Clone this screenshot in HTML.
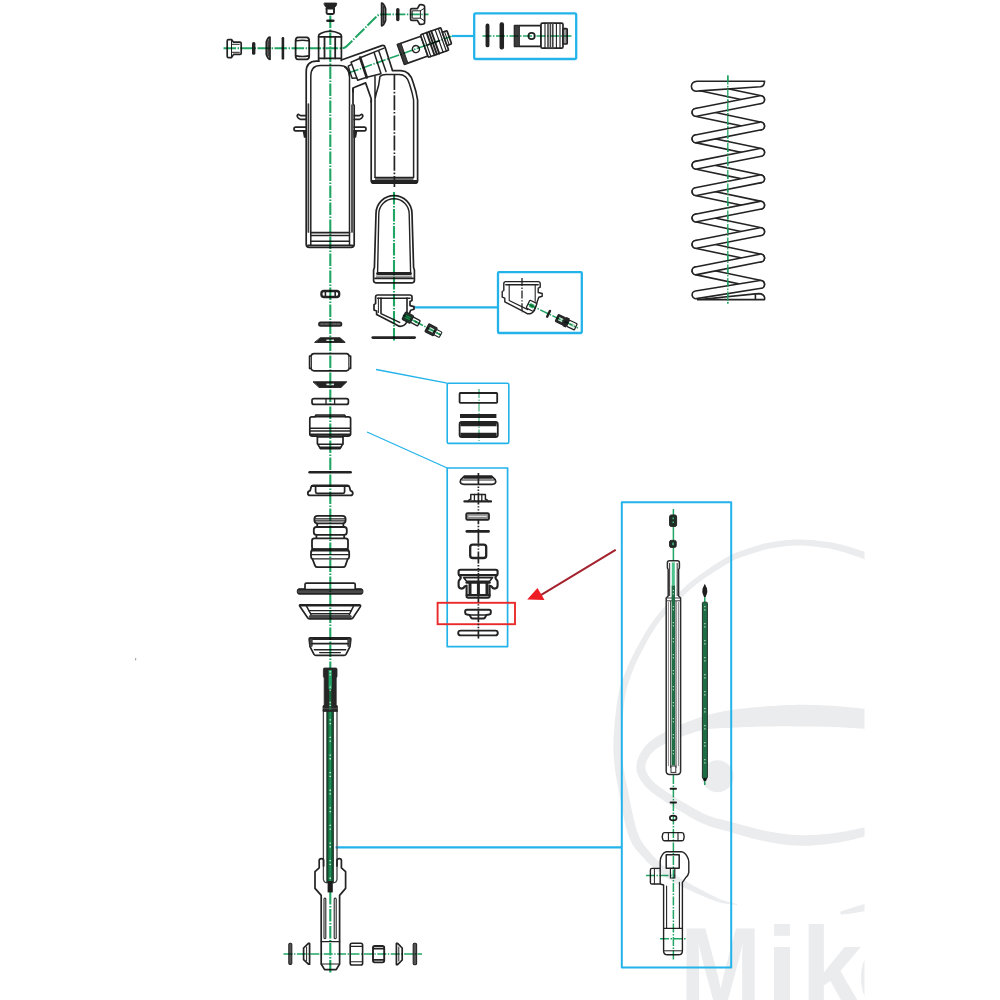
<!DOCTYPE html>
<html><head><meta charset="utf-8"><title>Shock absorber exploded view</title>
<style>
html,body{margin:0;padding:0;background:#fff;}
body{width:1000px;height:1000px;overflow:hidden;font-family:"Liberation Sans",sans-serif;}
svg{display:block;filter:blur(0.75px);}
.k{fill:none;stroke:#232323;stroke-width:1.7;stroke-linejoin:round;stroke-linecap:round;}
</style></head>
<body>
<svg width="1000" height="1000" viewBox="0 0 1000 1000">
<defs><clipPath id="wmclip"><rect x="560" y="480" width="304.5" height="520"/></clipPath></defs>
<rect width="1000" height="1000" fill="#fff"/>
<g clip-path="url(#wmclip)" fill="#ebecee" stroke="none">
<path d="M871.6,554.9 L871.3,554.8 L871.5,554.8 L871.7,555.0 L871.8,555.1 L871.5,554.8 L871.0,554.4 L870.4,554.0 L869.8,553.7 L869.1,553.4 L868.3,553.1 L867.2,552.7 L865.9,552.3 L864.3,551.8 L862.5,551.1 L860.3,550.4 L858.0,549.6 L855.5,548.8 L852.8,547.9 L850.0,547.1 L847.2,546.2 L844.3,545.4 L841.4,544.6 L838.5,543.9 L835.7,543.3 L832.8,542.8 L830.0,542.3 L827.0,541.8 L824.0,541.4 L820.9,541.0 L817.9,540.7 L814.8,540.3 L811.8,540.1 L808.7,539.9 L805.8,539.7 L802.9,539.6 L800.0,539.5 L797.3,539.5 L794.5,539.6 L791.7,539.7 L789.0,539.9 L786.3,540.1 L783.7,540.4 L781.2,540.7 L778.7,541.1 L776.2,541.4 L773.9,541.8 L771.6,542.2 L769.5,542.5 L767.4,542.9 L765.4,543.3 L763.6,543.8 L761.8,544.2 L760.1,544.7 L758.4,545.2 L756.8,545.7 L755.3,546.2 L753.7,546.8 L752.2,547.3 L750.6,547.8 L749.1,548.3 L747.5,548.8 L746.0,549.3 L744.5,549.8 L743.0,550.2 L741.5,550.7 L740.0,551.2 L738.4,551.7 L736.8,552.3 L735.1,553.0 L733.3,553.8 L731.4,554.7 L729.4,555.8 L727.2,556.9 L724.9,558.3 L722.5,559.7 L720.0,561.3 L717.4,562.9 L714.8,564.6 L712.2,566.3 L709.7,568.1 L707.2,569.8 L704.8,571.4 L702.5,573.0 L700.4,574.5 L698.4,575.9 L696.7,577.2 L695.0,578.5 L693.4,579.7 L691.9,580.9 L690.4,582.1 L688.9,583.3 L687.5,584.6 L685.9,586.0 L684.4,587.5 L682.7,589.1 L680.9,590.8 L678.9,592.6 L676.9,594.6 L674.7,596.7 L672.5,598.9 L670.3,601.1 L668.0,603.5 L665.7,605.8 L663.4,608.3 L661.2,610.8 L659.0,613.3 L657.0,615.8 L655.0,618.3 L653.1,620.9 L651.2,623.5 L649.4,626.3 L647.6,629.0 L645.9,631.8 L644.2,634.7 L642.6,637.4 L641.0,640.2 L639.5,642.9 L638.1,645.6 L636.7,648.1 L635.3,650.6 L634.1,653.0 L632.9,655.3 L631.8,657.6 L630.7,659.8 L629.7,662.0 L628.7,664.2 L627.8,666.3 L626.9,668.4 L626.1,670.4 L625.3,672.5 L624.5,674.5 L623.7,676.5 L623.0,678.4 L622.4,680.3 L621.8,682.0 L621.2,683.7 L620.7,685.4 L620.2,687.1 L619.7,688.9 L619.2,690.8 L618.8,692.7 L618.4,694.8 L618.0,697.0 L617.5,699.5 L617.1,702.2 L616.7,705.2 L616.3,708.3 L615.9,711.7 L615.5,715.1 L615.1,718.6 L614.8,722.1 L614.5,725.5 L614.2,728.9 L614.0,732.1 L613.8,735.1 L613.6,737.8 L613.5,740.4 L613.4,742.8 L613.4,745.0 L613.4,747.1 L613.4,749.1 L613.5,751.1 L613.5,753.0 L613.7,754.8 L613.8,756.7 L613.9,758.5 L614.1,760.5 L614.3,762.4 L614.5,764.4 L614.6,766.2 L614.8,768.0 L615.0,769.7 L615.3,771.4 L615.5,773.2 L615.8,775.1 L616.1,777.0 L616.5,779.1 L617.0,781.5 L617.4,784.0 L618.0,786.9 L618.6,790.1 L619.3,793.8 L620.0,797.8 L620.8,802.0 L621.6,806.5 L622.5,811.1 L623.4,815.6 L624.3,820.1 L625.3,824.4 L626.3,828.5 L627.4,832.2 L628.5,835.6 L629.7,838.6 L630.9,841.3 L632.2,843.7 L633.5,845.9 L634.9,847.9 L636.2,849.7 L637.6,851.4 L639.0,853.0 L640.4,854.4 L641.7,855.9 L643.0,857.3 L644.4,858.8 L645.8,860.4 L647.3,861.9 L648.8,863.4 L650.3,864.9 L651.8,866.2 L653.4,867.6 L654.9,868.9 L656.5,870.2 L658.0,871.4 L659.6,872.6 L661.1,873.8 L662.7,875.0 L664.2,876.1 L665.7,877.2 L667.2,878.2 L668.6,879.1 L670.1,880.1 L671.6,881.0 L673.1,881.9 L674.8,882.9 L676.5,883.8 L678.3,884.8 L680.3,885.8 L682.5,886.9 L684.9,888.0 L687.5,889.3 L690.4,890.6 L693.4,892.0 L696.5,893.4 L699.7,894.8 L702.8,896.1 L706.0,897.4 L709.0,898.7 L711.9,899.8 L714.5,900.8 L717.0,901.6 L719.2,902.3 L721.2,902.9 L723.1,903.3 L724.8,903.6 L726.5,903.8 L728.0,904.0 L729.5,904.2 L730.9,904.3 L732.4,904.4 L733.8,904.5 L735.3,904.7 L736.9,904.9 L737.1,904.1 L735.5,903.7 L734.0,903.3 L732.6,902.9 L731.2,902.6 L729.8,902.3 L728.4,901.9 L726.9,901.5 L725.4,901.1 L723.8,900.6 L722.1,900.0 L720.3,899.2 L718.2,898.4 L716.0,897.3 L713.5,896.1 L710.7,894.8 L707.9,893.3 L704.9,891.8 L701.9,890.2 L698.9,888.6 L695.9,886.9 L693.0,885.4 L690.3,883.8 L687.8,882.4 L685.5,881.1 L683.5,879.9 L681.6,878.8 L679.9,877.8 L678.3,876.8 L676.8,875.9 L675.4,875.0 L674.0,874.1 L672.7,873.2 L671.4,872.2 L670.1,871.2 L668.7,870.2 L667.3,869.0 L665.8,867.8 L664.4,866.6 L662.9,865.4 L661.5,864.2 L660.1,862.9 L658.7,861.6 L657.3,860.3 L656.0,859.0 L654.7,857.6 L653.4,856.2 L652.1,854.8 L650.8,853.2 L649.5,851.6 L648.2,850.1 L646.9,848.6 L645.7,847.2 L644.6,845.7 L643.5,844.3 L642.4,842.7 L641.4,841.1 L640.4,839.2 L639.4,837.2 L638.4,835.0 L637.5,832.4 L636.5,829.4 L635.5,826.0 L634.5,822.1 L633.5,818.0 L632.6,813.7 L631.6,809.2 L630.7,804.7 L629.8,800.3 L629.0,796.1 L628.2,792.1 L627.5,788.4 L626.8,785.1 L626.2,782.3 L625.7,779.8 L625.2,777.5 L624.8,775.4 L624.5,773.5 L624.2,771.8 L623.9,770.1 L623.6,768.5 L623.4,766.9 L623.2,765.2 L622.9,763.5 L622.7,761.6 L622.5,759.6 L622.3,757.8 L622.1,756.0 L622.0,754.2 L621.8,752.5 L621.7,750.7 L621.6,748.9 L621.6,747.0 L621.5,745.0 L621.5,742.9 L621.5,740.6 L621.6,738.2 L621.7,735.5 L621.8,732.5 L622.0,729.4 L622.2,726.1 L622.4,722.7 L622.6,719.2 L622.9,715.8 L623.2,712.4 L623.5,709.1 L623.8,706.0 L624.1,703.1 L624.5,700.5 L624.8,698.2 L625.2,696.0 L625.5,694.1 L625.9,692.2 L626.3,690.5 L626.7,688.9 L627.1,687.3 L627.6,685.7 L628.1,684.1 L628.6,682.4 L629.2,680.6 L629.9,678.7 L630.6,676.7 L631.3,674.7 L632.0,672.7 L632.8,670.7 L633.6,668.7 L634.4,666.6 L635.3,664.5 L636.3,662.4 L637.3,660.2 L638.3,658.0 L639.5,655.7 L640.7,653.4 L641.9,650.9 L643.3,648.4 L644.7,645.7 L646.1,643.0 L647.6,640.3 L649.2,637.5 L650.8,634.8 L652.5,632.1 L654.1,629.4 L655.9,626.7 L657.6,624.2 L659.4,621.7 L661.3,619.3 L663.3,616.9 L665.4,614.4 L667.5,612.0 L669.8,609.7 L672.0,607.3 L674.2,605.1 L676.5,602.8 L678.7,600.7 L680.8,598.6 L682.8,596.7 L684.7,594.8 L686.5,593.1 L688.2,591.6 L689.7,590.1 L691.2,588.8 L692.6,587.6 L694.0,586.4 L695.4,585.2 L696.8,584.1 L698.4,582.9 L700.0,581.7 L701.7,580.4 L703.6,579.1 L705.7,577.6 L708.0,576.1 L710.3,574.5 L712.8,572.8 L715.4,571.1 L718.0,569.5 L720.6,567.9 L723.1,566.3 L725.6,564.8 L727.9,563.4 L730.2,562.2 L732.2,561.0 L734.1,560.1 L735.8,559.3 L737.4,558.6 L739.0,557.9 L740.5,557.4 L741.9,556.9 L743.3,556.4 L744.8,556.0 L746.2,555.5 L747.7,555.1 L749.3,554.6 L750.9,554.1 L752.6,553.5 L754.1,553.0 L755.7,552.4 L757.2,551.9 L758.7,551.4 L760.2,551.0 L761.8,550.5 L763.3,550.0 L765.0,549.6 L766.7,549.2 L768.6,548.8 L770.5,548.5 L772.6,548.1 L774.8,547.7 L777.1,547.4 L779.5,547.0 L781.9,546.7 L784.4,546.4 L786.9,546.1 L789.5,545.9 L792.1,545.7 L794.7,545.5 L797.3,545.5 L800.0,545.5 L802.6,545.6 L805.4,545.7 L808.3,545.9 L811.2,546.2 L814.2,546.5 L817.2,546.8 L820.1,547.2 L823.1,547.7 L826.0,548.1 L828.9,548.6 L831.7,549.1 L834.3,549.7 L837.0,550.3 L839.7,551.0 L842.5,551.8 L845.3,552.6 L848.0,553.5 L850.7,554.4 L853.3,555.3 L855.8,556.1 L858.1,556.9 L860.2,557.7 L862.1,558.4 L863.7,558.9 L865.0,559.4 L865.9,559.7 L866.5,559.9 L866.9,560.1 L867.0,560.2 L866.9,560.1 L866.7,559.9 L866.6,559.8 L866.9,560.1 L867.4,560.5 L867.9,560.9 L868.4,561.1 Z"/>
<path d="M871.5,709.6 L871.3,709.6 L871.6,709.7 L872.3,709.8 L872.6,710.0 L872.1,709.8 L871.2,709.5 L870.4,709.4 L869.7,709.3 L868.9,709.2 L868.1,709.1 L867.0,709.0 L865.7,708.8 L864.1,708.7 L862.2,708.5 L860.1,708.2 L857.8,708.0 L855.3,707.7 L852.6,707.5 L849.8,707.2 L847.0,706.9 L844.1,706.7 L841.2,706.4 L838.3,706.2 L835.5,706.0 L832.7,705.8 L829.9,705.7 L827.0,705.5 L824.1,705.4 L821.1,705.2 L818.1,705.1 L815.1,705.0 L812.1,704.9 L809.0,704.9 L806.0,704.8 L803.0,704.8 L800.0,704.8 L797.0,704.8 L794.1,704.9 L791.1,705.0 L788.1,705.1 L785.1,705.2 L782.2,705.3 L779.2,705.5 L776.2,705.7 L773.3,705.9 L770.3,706.1 L767.4,706.3 L764.5,706.5 L761.6,706.7 L758.7,707.0 L755.7,707.2 L752.8,707.5 L749.9,707.8 L747.0,708.0 L744.0,708.4 L741.2,708.7 L738.3,709.0 L735.5,709.4 L732.7,709.8 L730.0,710.3 L727.5,710.7 L725.0,711.1 L722.5,711.6 L720.1,712.1 L717.7,712.6 L715.3,713.1 L712.9,713.7 L710.5,714.3 L708.0,715.0 L705.5,715.7 L702.9,716.5 L700.3,717.3 L697.6,718.2 L694.8,719.2 L692.0,720.2 L689.1,721.3 L686.2,722.4 L683.3,723.6 L680.5,724.8 L677.7,726.0 L675.0,727.1 L672.4,728.3 L670.0,729.5 L667.7,730.6 L665.5,731.7 L663.5,732.8 L661.5,733.9 L659.6,734.9 L657.7,736.0 L656.0,737.1 L654.2,738.3 L652.6,739.4 L651.0,740.7 L649.5,741.9 L648.0,743.3 L646.6,744.7 L645.3,746.1 L644.1,747.7 L642.9,749.2 L641.8,750.9 L640.8,752.5 L639.9,754.2 L639.1,755.9 L638.3,757.6 L637.7,759.3 L637.2,761.0 L636.8,762.7 L636.5,764.4 L636.4,766.1 L636.4,767.8 L636.6,769.5 L636.8,771.1 L637.2,772.7 L637.7,774.2 L638.3,775.7 L639.0,777.2 L639.7,778.6 L640.5,780.0 L641.4,781.3 L642.4,782.6 L643.3,783.9 L644.3,785.1 L645.3,786.3 L646.4,787.5 L647.6,788.7 L648.9,789.8 L650.2,791.0 L651.7,792.2 L653.4,793.4 L655.2,794.8 L657.2,796.2 L659.5,797.7 L662.0,799.5 L664.9,801.4 L668.1,803.5 L671.5,805.7 L675.1,807.9 L678.8,810.2 L682.5,812.5 L686.2,814.8 L689.9,816.9 L693.4,818.9 L696.8,820.7 L699.9,822.3 L702.9,823.6 L705.6,824.8 L708.3,825.8 L710.8,826.7 L713.3,827.5 L715.6,828.1 L717.9,828.8 L720.2,829.3 L722.5,829.9 L724.8,830.5 L727.2,831.1 L729.6,831.8 L732.3,832.6 L735.0,833.4 L737.7,834.2 L740.5,835.1 L743.4,835.9 L746.3,836.7 L749.2,837.6 L752.1,838.4 L755.1,839.1 L758.0,839.8 L761.0,840.5 L764.0,841.1 L766.9,841.7 L769.8,842.3 L772.8,842.8 L775.8,843.3 L778.7,843.8 L781.7,844.2 L784.7,844.6 L787.7,844.9 L790.8,845.2 L793.8,845.5 L796.8,845.6 L799.9,845.7 L802.9,845.8 L806.0,845.8 L809.1,845.7 L812.1,845.5 L815.2,845.3 L818.2,845.0 L821.3,844.8 L824.2,844.4 L827.2,844.1 L830.1,843.7 L832.9,843.3 L835.7,843.0 L838.5,842.5 L841.4,842.0 L844.3,841.4 L847.2,840.8 L850.0,840.2 L852.8,839.6 L855.4,838.9 L857.9,838.3 L860.2,837.7 L862.3,837.2 L864.2,836.8 L865.8,836.4 L867.1,836.1 L868.1,835.8 L868.9,835.6 L869.6,835.5 L870.1,835.3 L870.7,835.1 L871.3,834.8 L871.6,834.6 L871.5,834.7 L871.2,834.8 L871.1,834.9 L871.3,834.8 L868.7,826.2 L868.2,826.4 L867.6,826.6 L867.1,826.9 L866.7,827.1 L866.9,827.0 L867.2,826.9 L867.3,826.8 L867.1,826.9 L866.7,827.0 L866.1,827.1 L865.1,827.3 L863.8,827.6 L862.2,827.9 L860.3,828.3 L858.2,828.8 L855.9,829.3 L853.4,829.8 L850.8,830.3 L848.1,830.8 L845.3,831.4 L842.5,831.8 L839.7,832.3 L837.0,832.7 L834.3,833.0 L831.6,833.4 L828.9,833.7 L826.0,834.0 L823.2,834.3 L820.3,834.5 L817.4,834.8 L814.5,835.0 L811.6,835.1 L808.7,835.2 L805.8,835.3 L803.0,835.3 L800.1,835.3 L797.3,835.1 L794.5,835.0 L791.7,834.7 L788.9,834.4 L786.0,834.1 L783.2,833.7 L780.3,833.3 L777.4,832.9 L774.6,832.4 L771.7,831.9 L768.9,831.4 L766.0,830.9 L763.2,830.3 L760.4,829.7 L757.6,829.0 L754.7,828.3 L751.8,827.6 L749.0,826.8 L746.2,826.1 L743.3,825.3 L740.5,824.5 L737.8,823.7 L735.1,822.9 L732.4,822.2 L729.7,821.5 L727.2,820.9 L724.8,820.3 L722.5,819.8 L720.3,819.3 L718.1,818.7 L716.0,818.2 L713.8,817.5 L711.5,816.8 L709.2,815.9 L706.7,814.9 L704.1,813.7 L701.1,812.3 L697.9,810.6 L694.5,808.7 L690.9,806.7 L687.3,804.6 L683.6,802.4 L679.9,800.2 L676.4,798.0 L673.0,795.8 L669.9,793.8 L667.0,791.9 L664.5,790.3 L662.4,788.8 L660.4,787.4 L658.7,786.2 L657.2,785.1 L655.9,784.0 L654.8,783.1 L653.8,782.1 L652.8,781.2 L652.0,780.3 L651.2,779.4 L650.4,778.4 L649.6,777.4 L648.9,776.3 L648.2,775.2 L647.6,774.2 L647.0,773.1 L646.5,772.1 L646.2,771.2 L645.8,770.2 L645.6,769.3 L645.5,768.3 L645.4,767.4 L645.4,766.5 L645.5,765.6 L645.6,764.5 L645.9,763.4 L646.3,762.2 L646.8,761.0 L647.3,759.7 L648.0,758.5 L648.7,757.2 L649.5,755.9 L650.4,754.7 L651.4,753.5 L652.3,752.4 L653.4,751.3 L654.5,750.3 L655.6,749.4 L656.9,748.5 L658.2,747.6 L659.7,746.7 L661.2,745.8 L662.8,745.0 L664.5,744.1 L666.3,743.3 L668.2,742.4 L670.2,741.5 L672.3,740.6 L674.5,739.6 L676.9,738.7 L679.4,737.7 L682.1,736.6 L684.8,735.6 L687.5,734.6 L690.3,733.7 L693.1,732.8 L695.9,731.9 L698.6,731.1 L701.2,730.4 L703.7,729.9 L706.1,729.4 L708.4,729.0 L710.7,728.8 L713.0,728.5 L715.2,728.4 L717.4,728.3 L719.7,728.2 L722.0,728.1 L724.4,728.0 L726.8,728.0 L729.4,727.9 L732.0,727.7 L734.6,727.6 L737.2,727.5 L739.9,727.3 L742.7,727.2 L745.5,727.1 L748.3,727.0 L751.1,726.9 L754.0,726.8 L756.9,726.7 L759.8,726.6 L762.6,726.5 L765.5,726.5 L768.3,726.4 L771.2,726.4 L774.1,726.4 L776.9,726.3 L779.8,726.3 L782.7,726.3 L785.6,726.3 L788.5,726.3 L791.4,726.3 L794.3,726.4 L797.1,726.4 L800.0,726.4 L802.9,726.4 L805.8,726.4 L808.7,726.5 L811.7,726.5 L814.6,726.5 L817.5,726.6 L820.5,726.6 L823.4,726.7 L826.2,726.7 L829.0,726.8 L831.8,726.9 L834.5,727.0 L837.1,727.1 L839.9,727.2 L842.7,727.4 L845.5,727.5 L848.2,727.7 L850.9,727.9 L853.5,728.0 L856.0,728.2 L858.3,728.4 L860.4,728.5 L862.3,728.6 L863.9,728.8 L865.2,728.9 L866.1,728.9 L866.7,729.0 L867.0,729.0 L867.1,729.0 L866.7,729.0 L866.1,728.8 L865.7,728.7 L866.3,728.9 L867.2,729.1 L868.0,729.3 L868.5,729.4 Z"/>
<path d="M840.8,914.7 L843.7,914.3 L846.7,914.0 L849.6,913.7 L852.6,913.3 L855.9,912.7 L859.4,912.1 L862.7,911.5 L865.4,911.0 L867.3,910.6 L868.7,910.3 L869.8,910.1 L871.0,909.8 L869.0,902.6 L867.9,902.9 L866.8,903.3 L865.6,903.7 L863.8,904.2 L861.1,905.0 L857.9,905.9 L854.6,906.9 L851.4,907.9 L848.5,908.9 L845.7,909.8 L842.9,910.8 L840.2,911.7 Z"/>
<circle cx="717.5" cy="776.3" r="16"/>
<g font-family="Liberation Sans, sans-serif" font-weight="bold" font-size="116">
<text transform="translate(686.8,1009) scale(0.84,1)" x="-8.1" y="0">M</text>
<text x="766.1" y="1009">i</text>
<text transform="translate(808.6,1009) scale(0.95,1)" x="-8.1" y="0">k</text>
<text x="856.4" y="1009">e</text>
</g></g>
<!-- blue callouts -->
<g fill="none" stroke="#23b3ea" stroke-linejoin="round">
<rect x="474.2" y="13.4" width="102" height="45.6" rx="1.5" stroke-width="2.3"/>
<path d="M452,36 H474" stroke-width="2.2"/>
<rect x="498" y="272.2" width="83.8" height="60.8" rx="1" stroke-width="2.3"/>
<path d="M413,307.4 H498" stroke-width="2.2"/>
<rect x="447.2" y="383.2" width="61.6" height="60.2" rx="1.5" stroke-width="1.6"/>
<path d="M376,369.5 L447.2,383.2" stroke-width="1.3"/>
<rect x="447.2" y="468" width="60.4" height="178.6" stroke-width="1.7"/>
<path d="M367,432 L447.2,468" stroke-width="1.3"/>
<rect x="621.8" y="502.2" width="109.4" height="465.4" stroke-width="2"/>
<path d="M335.5,847.3 H621.8" stroke-width="2.3"/>
</g>
<!-- red -->
<rect x="437.6" y="602.8" width="77.4" height="21.4" fill="none" stroke="#ea2a2a" stroke-width="1.9"/>
<path d="M615.2,550.2 L540,595.6" stroke="#a3222d" stroke-width="2" fill="none" stroke-linecap="round"/>
<path d="M527.2,599.4 L537.5,588 L544.5,600 Z" fill="#ee1c24"/>

<!-- top bolt, washer, cap -->
<g class="k">
<path d="M324.4,3 H336.6 V5 L334.8,7.4 H326 L324.4,5 Z" fill="#232323" stroke-width="0.8"/>
<rect x="326.6" y="7.6" width="7.4" height="6.4" rx="1.2" fill="#fff" stroke-width="1.9"/>
<path d="M326.6,8.4 H334" stroke-width="2"/>
<rect x="326.2" y="19.4" width="8.4" height="2.6" rx="1.3" fill="#232323" stroke="none"/>
<!-- cap -->
<path d="M318.6,60.5 V36 Q318.6,34.3 320.5,33.6 Q330,28.5 339.5,33.6 Q341.4,34.3 341.4,36 V60.5"/>
<path d="M318.6,36.8 H341.4"/>
<path d="M319,58.4 H341"/>
<path d="M324.5,36.8 V58.4 M335.2,36.8 V58.4" stroke-width="1.8"/>
</g>
<!-- left row -->
<g class="k">
<!-- nut -->
<path d="M228.5,39.6 H231.5 L233.6,42.2 H240 Q241.2,42.2 241.2,43.4 V53.2 Q241.2,54.4 240,54.4 H233.6 L231.5,57.6 H228.5 Q227.2,57.6 227.2,56.2 V41 Q227.2,39.6 228.5,39.6 Z"/>
<path d="M231.5,39.6 V57.6" stroke-width="1"/>
<path d="M231.8,44.3 H239.3 M231.8,52.3 H239.3" stroke-width="1"/>
<!-- small washer -->
<rect x="252" y="42" width="3.4" height="12.8" rx="1.6" fill="#232323" stroke="none"/>
<!-- cup washer -->
<path d="M270,37.2 V59.4 Q268,59.6 266.3,54.6 V42 Q268,37 270,37.2 Z" fill="#888"/>
<path d="M268.2,41 V55.6" stroke-width="1"/>
<!-- thin disc -->
<rect x="281.6" y="37" width="2.6" height="22.6" rx="1.2" fill="#232323" stroke="none"/>
<!-- barrel -->
<path d="M298,37.3 H306.6 Q309.2,37.3 309.2,41 V55.6 Q309.2,59.4 306.6,59.4 H298 Q295.6,59.4 295.6,55.6 V41 Q295.6,37.3 298,37.3 Z" stroke-width="1.8"/>
<path d="M296.4,40.8 Q302.4,39.6 308.4,40.8 M296.4,55.9 Q302.4,57.1 308.4,55.9" stroke-width="1.6"/>
</g>
<!-- top right row -->
<g class="k">
<path d="M381.6,3.2 V25.8 Q383.6,26 385.6,20.4 V8.6 Q383.6,3 381.6,3.2 Z" fill="#888"/>
<path d="M383.4,6.5 V22.5" stroke-width="1"/>
<rect x="396.1" y="8" width="3.4" height="13.2" rx="1.6" fill="#232323" stroke="none"/>
<!-- nut -->
<path d="M411.8,8.6 H417.4 L419.6,4.8 Q422,4.2 424,5.4 Q424.8,6 424.6,7.4 V21.6 Q424.8,23 424,23.8 Q422,24.8 419.6,24.2 L417.4,20.4 H411.8 Q410.6,20.4 410.6,19.2 V9.8 Q410.6,8.6 411.8,8.6 Z"/>
<path d="M412.6,10.8 H420.4 V18.2 H412.6 Z" stroke-width="1"/>
<path d="M420.4,10.8 L424.4,8.2 M420.4,18.2 L424.4,20.8" stroke-width="1"/>
</g>

<!-- main body -->
<g class="k">
<!-- outer -->
<path d="M319,61.2 H316.5 Q306.2,61.2 306.2,72 V244.2 Q306.2,247.4 309.4,247.4 H351 Q354.2,247.4 354.2,244.2 V105.5 L353,104 V88"/>
<!-- inner -->
<path d="M310.8,245 V76 Q310.8,65.4 320.5,65.4 H339.5 Q349.5,65.4 349.5,76 V245" stroke-width="1.5"/>
<path d="M308.4,104 V232 M352,105 V232" stroke-width="1.7" stroke="#3a3a3a"/>
<!-- bottom bands -->
<path d="M310.8,232.6 H349.4" stroke-width="1.9"/>
<path d="M310.8,235.5 H349.4 M310.8,241.2 H349.4" stroke-width="1.6"/>
<path d="M308,245.4 H352.4" stroke-width="1.7"/>
<!-- brackets left -->
<path d="M305.8,115.6 H300.5 L298.6,114.4 Q297,114.6 297.2,116.2 Q297.4,117.6 298.8,118.4 L300.4,119.4 H305.8"/>
<path d="M305.8,127.2 H295.6 Q294,127.2 294,129 Q294,130.8 295.6,130.8 H305.8"/>
<path d="M303.6,131 H305.8 V137 H304.6 Z" fill="#232323"/>
<!-- brackets right -->
<path d="M354.2,115.6 H359.5 L361.4,114.4 Q363,114.6 362.8,116.2 Q362.6,117.6 361.2,118.4 L359.6,119.4 H354.2"/>
<path d="M354.2,127.2 H364.4 Q366,127.2 366,129 Q366,130.8 364.4,130.8 H354.2"/>
<path d="M356.4,131 H354.2 V137 H355.4 Z" fill="#232323"/>
</g>
<!-- web + housing -->
<g class="k">
<path d="M353,92 V89.4 Q353,87.8 354.6,87.3 L365.6,82.9 L371.2,98.8 V102"/>
<path d="M349.5,76 Q349,70 344.5,66.6" stroke-width="1.5"/>
</g>
<!-- housing (image coords) -->
<g class="k">
<path d="M341.4,60 L381.8,45.6 Q384.3,44.8 385.1,47.2 L392.4,70.3 L380,74.8 L366.8,77.3 L357.7,80.2 L352.1,78.2 L348.2,66.1 Z" fill="#fff" stroke="none"/>
<path d="M341.4,60 L381.8,45.6 Q384.3,44.8 385.1,47.2 L392.4,70.3"/>
<path d="M360.1,57.7 L384.1,48.1" stroke-width="1.5"/>
<path d="M366.8,77.3 L381,73.8" stroke-width="1.5"/>
<path d="M360.1,57.5 L366.8,77.5" stroke-width="2.6"/>
<path d="M374.1,52.6 L380.8,73 M378.7,50.8 L386,71.5" stroke-width="1.5"/>
<path d="M360.1,58.2 L351,62.2 L357.7,80.2 L366.8,77.3" stroke-width="1.5"/>
<path d="M351.6,64.4 L348.2,66.1 L352.1,78.2 L356.8,78" stroke-width="1.4"/>
</g>
<!-- adjuster rotated -->
<g class="k" transform="translate(349,72.8) rotate(-19.5)">
<path d="M55,-10.5 H80 V10.5 H55 Z" fill="#fff"/>
<path d="M55.2,-10.5 H58.8 V10.5 H55.2 Z" fill="#3c3c3c" stroke="#2a2a2a" stroke-width="1"/>
<circle cx="71" cy="0" r="3.5" stroke-width="1.5"/>
<path d="M81,-12 H100.5 Q101.5,-12 101.5,-11 V11 Q101.5,12 100.5,12 H81 Q80,12 80,11 V-11 Q80,-12 81,-12 Z" fill="#fff"/>
<path d="M82.6,-12 V12" stroke-width="1.2"/>
<path d="M86.5,-12 V12 M89,-12 V12 M91.5,-12 V12" stroke-width="1.9"/>
<path d="M95.6,-12 V12 M99,-12 V12" stroke-width="1.2"/>
<path d="M82.6,0 H96" stroke-width="1.6"/>
<path d="M101.5,-7 H105.4 Q106.4,-7 106.4,-6 V6 Q106.4,7 105.4,7 H101.5 Z" fill="#fff"/>
<path d="M103.8,-7 V7" stroke-width="1"/>
</g>

<!-- reservoir -->
<g class="k">
<path d="M371.2,100 V180.4 Q371.2,183.2 374,183.2 H414.8 Q417.6,183.2 417.6,180.4 V100 Q416.5,92 413,82 Q410,71 401,70.6 H392.5"/>
<path d="M375,76.4 V177.6 M413.6,177.6 V100 Q412.5,93 409.5,84 Q407,74.6 399,74.6 H386 Q382,74.8 380,76.4 Q379,86 376.4,93 L375.2,98" stroke-width="1.5"/>
<rect x="375" y="177.4" width="38.4" height="3" fill="#707070" stroke="none"/>
<path d="M375.2,177.4 H413.4" stroke-width="1.5"/>
<path d="M372.4,181.7 H416.4" stroke-width="3.2"/>
</g>
<path d="M394.4,75 V187" fill="none" stroke="#232323" stroke-width="1.7" stroke-dasharray="15 1.8 1.6 1.8"/>
<!-- bladder -->
<g class="k">
<path d="M376,213.6 A18,18 0 0 1 412,213.6 L413.6,267.6 L414.4,270 V280.6 Q414.4,282.8 412.2,282.8 H375.8 Q373.6,282.8 373.6,280.6 V270 L374.4,267.6 Z"/>
<path d="M377.6,272.6 L378.8,214 A15.2,15.2 0 0 1 409.2,214 L410.6,272.6" stroke-width="1.4"/>
<path d="M377.6,273.6 H410.4" stroke-width="3"/>
<rect x="376" y="275.4" width="36" height="2.4" fill="#9a9a9a" stroke="none"/>
<path d="M375,278.4 H413.2" stroke-width="1.6"/>
</g>
<!-- cap under bladder -->
<g class="k" id="cap">
<path d="M377.6,295 H409.8 Q412,295 412,297 V300.4 L410,301.4 V305.6 L414,306.6 V309.2 L410.6,310.2 L409,314.6 L406.4,322.6 Q404,326.8 399,326.2 L395,324 L376.6,314.6 V311 L374,310 V304.6 L375.6,303.6 V297 Q375.6,295 377.6,295 Z"/>
<path d="M377.6,298.2 H410" stroke-width="1.5"/>
<path d="M381,298 V313.6 L399.6,322.4 M407,298 V316" stroke-width="1.6"/>
<path d="M378.4,298 V312.6" stroke-width="1"/>
</g>
<path d="M372.8,337.6 H414.6" stroke="#232323" stroke-width="2.8" stroke-linecap="round" fill="none"/>
<!-- valve fitting angled -->
<g transform="translate(403,315) rotate(27.8)">
<rect x="1" y="-4.2" width="9" height="8.4" rx="1" fill="#1d3b2a" stroke="#232323" stroke-width="1.2"/>
<rect x="3" y="-1.4" width="5" height="2.8" fill="#21a564"/>
<rect x="10" y="-3" width="8" height="6" rx="0.8" fill="#fff" stroke="#232323" stroke-width="1.3"/>
<rect x="12" y="-1" width="4" height="2" fill="#21a564"/>
<rect x="27" y="-4.4" width="9.5" height="8.8" rx="0.8" fill="#2a2a2a" stroke="#232323" stroke-width="1.2"/>
<rect x="29.5" y="-2" width="5" height="4" fill="#bfe3cf"/>
<rect x="36.5" y="-3" width="6" height="6" rx="0.6" fill="#fff" stroke="#232323" stroke-width="1.1"/>
<rect x="38" y="-0.8" width="4" height="1.6" fill="#21a564"/>
</g>

<!-- stack along main axis -->
<g class="k">
<!-- small ring -->
<rect x="321.4" y="291" width="17.8" height="6" rx="2.6" stroke-width="2.3"/>
<path d="M325.4,291 V297 M335.2,291 V297" stroke-width="1.6"/>
<!-- washer -->
<rect x="318.8" y="322.2" width="22.8" height="3.8" rx="1.8" stroke-width="1.4" fill="#444"/>
<path d="M321,324.1 H339.6" stroke-width="0.9" stroke="#777" stroke-dasharray="2.5 1.5"/>
<!-- trapezoid washer up -->
<path d="M320.6,337.8 H340 L345.2,342.4 H315 Z" fill="#232323" stroke-width="1"/>
<rect x="326.4" y="339.6" width="7.6" height="1.4" fill="#e8e8e8" stroke="none"/>
<!-- big rounded rect -->
<path d="M314,353.6 H346.4 Q348.6,353.6 349.2,356 H350.6 V368.4 H349.2 Q348.6,370.8 346.4,370.8 H314 Q311.6,370.8 311,368.4 H309.6 V356 H311 Q311.6,353.6 314,353.6 Z" stroke-width="1.7"/>
<path d="M311.4,356.5 V368 M348.8,356.5 V368" stroke-width="1"/>
<!-- inverted trapezoid washer -->
<path d="M313.4,381.8 H346.8 L341,387.4 H319.4 Z" fill="#232323" stroke-width="1"/>
<rect x="326.4" y="383.6" width="7.6" height="1.6" fill="#e8e8e8" stroke="none"/>
<!-- flat ring -->
<rect x="312" y="398.6" width="36.4" height="5.8" rx="2" stroke-width="1.7"/>
<path d="M326,399 V404 M334.6,399 V404" stroke-width="1.3"/>
<!-- piston -->
<path d="M316,415 H344.4 L345.4,416.8 H348.6 Q350.6,416.8 350.6,418.8 V433.6 Q350.6,436.2 348,436.2 H343 V443.6 L340,448.6 H320.4 L317.4,443.6 V436.2 H312.4 Q309.8,436.2 309.8,433.6 V418.8 Q309.8,416.8 311.8,416.8 H315 Z" stroke-width="1.7"/>
<path d="M315.4,416.4 H345" stroke-width="2"/>
<path d="M310,428.2 H350.4 M310,431 H350.4" stroke-width="1.5"/>
<path d="M310.4,434.6 H350" stroke-width="2.4"/>
<path d="M317.4,436.6 H343" stroke-width="2.2"/>
<path d="M317.6,444.2 H342.8" stroke-width="1.6"/>
<path d="M320,447.4 H340.4" stroke-width="1.8"/>
<!-- thin line -->
<path d="M309.6,472.2 H350.6" stroke-width="2.6"/>
<!-- seal head -->
<path d="M313.2,485.4 H347.4 Q349,485.4 349.4,486.8 L350.4,490.6 Q352.8,491.2 352.8,493.2 Q352.8,495.4 350.4,495.4 H310.2 Q307.8,495.4 307.8,493.2 Q307.8,491.2 310.2,490.6 L311.2,486.8 Q311.6,485.4 313.2,485.4 Z" stroke-width="1.8"/>
<path d="M315.6,486.2 H344.6 V491.8 Q344.6,493.4 343,493.4 H317.2 Q315.6,493.4 315.6,491.8 Z" stroke-width="1.7"/>
<path d="M312.4,486 H348" stroke-width="2.2"/>
<!-- bumper -->
<g stroke-width="1.8" fill="#fff">
<rect x="317.2" y="520" width="26.2" height="10" />
<rect x="316.4" y="531" width="27.8" height="10" />
<rect x="314.4" y="515.8" width="31.2" height="7.6" rx="3.2"/>
<rect x="313.8" y="527" width="33" height="7.8" rx="2.6"/>
<rect x="312" y="538.4" width="36" height="11" rx="2.4"/>
<path d="M311,553 Q310.8,550.4 313,550.2 H347 Q349.4,550.4 349.2,553 V556.6 Q349.2,558.4 347.6,559.2 L345.4,565.6 Q344.8,567.2 342.8,567.2 H317.6 Q315.6,567.2 315,565.6 L312.6,559.2 Q311,558.4 311,556.6 Z"/>
</g>
<path d="M315.4,518.8 H344.8 M315.2,520.8 H345" stroke-width="1.2"/>
<path d="M312.6,549.8 H347.6" stroke-width="3.2"/>
<path d="M311.6,554.6 H348.8 M312.6,558.8 H347.6" stroke-width="1.3"/>
<!-- flange -->
<path d="M306.4,583.2 H353.8 Q355.2,583.2 355.2,584.6 V589.2 H360.6 Q362.6,589.4 362.6,591.4 Q362.6,593.6 360.6,593.8 H299.6 Q297.6,593.6 297.6,591.4 Q297.6,589.4 299.6,589.2 H305 V584.6 Q305,583.2 306.4,583.2 Z" stroke-width="1.7"/>
<path d="M299,591.5 H361.2" stroke-width="3" stroke="#4a4a4a"/>
<path d="M298.6,589.4 H361.6" stroke-width="1.5"/>
<!-- cup -->
<path d="M300.4,604.8 H359.2 Q361,604.8 360.4,606.6 L353,617.8 Q352.4,618.8 351,618.8 H309.6 Q308.2,618.8 307.6,617.8 L300,606.6 Q298.8,604.8 300.4,604.8 Z" stroke-width="1.7"/>
<path d="M300.4,605.6 H359.2" stroke-width="2"/>
<path d="M306.6,606.4 L311,614.4 M353.4,606.4 L349.4,614.4" stroke-width="1.5"/>
<path d="M308.6,610.6 H351.4 M310.6,613.8 H349.6" stroke-width="1.4"/>
<path d="M310.4,616.6 H350.2" stroke-width="3.2" stroke="#4a4a4a"/>
<!-- lower cup -->
<path d="M310.4,637.9 H349.6 Q351,637.9 350.8,639.4 L350,646.6 L346,654.4 Q345.4,655.4 344.2,655.4 H315.8 Q314.6,655.4 314,654.4 L310,646.6 L309.2,639.4 Q309,637.9 310.4,637.9 Z" stroke-width="1.7"/>
<path d="M310,639 H350" stroke-width="2.2"/>
<path d="M311.2,640 V645.6 M348.8,640 V645.6" stroke-width="3" stroke="#444"/>
<path d="M312,643.6 H348" stroke-width="1.7"/>
<path d="M314.4,649.8 H345.6" stroke-width="1.5"/>
<path d="M319.6,652.6 H340.4" stroke-width="1.2"/>
</g>

<!-- main shaft -->
<g>
<!-- lower tube -->
<path d="M323.4,710 V879 Q323.6,882.6 327,882.8 M337,710 V879 Q336.8,882.6 333.4,882.8" fill="none" stroke-linecap="round" stroke="#444" stroke-width="1.3"/>
<!-- core -->
<rect x="326.8" y="668" width="6.6" height="215" fill="#15683c"/>
<path d="M327,668 V883 M333.2,668 V883" stroke="#1d2a22" stroke-width="1.2" fill="none"/>
<path d="M330.2,670 V883" stroke="#1f9459" stroke-width="1.5" fill="none"/>
<path d="M330.2,684 V890" stroke="#e6f5ec" stroke-width="1.3" fill="none" stroke-dasharray="1.3 2.4 1.3 12.6"/>
<!-- top dark collar -->
<path d="M324.4,668 H336 Q337,668 337,669.2 V676.4 L336.2,678 V704.6 L337.4,706 V711.4 H323 V706 L324.2,704.6 V678 L323.4,676.4 V669.2 Q323.4,668 324.4,668 Z" fill="#262626" stroke="#262626" stroke-width="0.8"/>
<rect x="328.6" y="670" width="3.2" height="19" fill="#22a866"/>
<rect x="329" y="689" width="2.4" height="21" fill="#156a3d"/>
<path d="M330.2,671 V706" stroke="#dff3e8" stroke-width="1.2" stroke-dasharray="1.4 1.6 1.4 11" fill="none"/>
<path d="M323,708.6 H337.4" stroke="#555" stroke-width="0.8"/>
<!-- black tail -->
<rect x="327.6" y="881" width="5.2" height="11.4" fill="#1c1c1c"/>
</g>
<!-- clevis -->
<g class="k">
<path d="M323.6,866 V860.6 Q323.6,858.6 321.4,858.6 Q319.2,858.6 319.2,860.6 V867.8 L315,871.6 V888.4 L321.2,895.4 V964 L324.6,969.6 H336.2 L339.6,964 V895.4 L345.6,888.4 V871.6 L341.4,867.8 V860.6 Q341.4,858.6 339.2,858.6 Q337,858.6 337,860.6 V866"/>
<path d="M324,899 V938 Q324.9,939.6 325.8,938 V899 Q324.9,897 324,899 Z M334.2,899 V938 Q335.2,939.6 336.2,938 V899 Q335.2,897 334.2,899 Z" stroke-width="1.1"/>
<path d="M321.2,941.6 H339.6" stroke-width="1.4"/>
<path d="M321.2,964 H339.6" stroke-width="1.1"/>
</g>
<!-- bottom row -->
<g class="k">
<rect x="288.8" y="943.2" width="3" height="21.2" rx="1.2" fill="#555" stroke-width="1.1"/>
<path d="M309.6,943.4 V964.2 H308.4 L303.6,959.6 V948 L308.4,943.4 Z"/>
<path d="M306.6,947 V960.6" stroke-width="1"/>
<rect x="350.2" y="943.2" width="12.4" height="21.8" rx="1.8" stroke-width="1.6"/>
<path d="M351,946.4 H361.8 M351,961.8 H361.8" stroke-width="1.1"/>
<rect x="373" y="946" width="11.2" height="16.4" rx="1.8" stroke-width="1.9"/>
<path d="M373.6,948.6 H383.6 M373.6,959.8 H383.6" stroke-width="1.7"/>
<path d="M396.4,943.4 V964.6 H397.6 L402.2,960 V948 L397.6,943.4 Z"/>
<path d="M398.8,947 V961" stroke-width="1"/>
<rect x="413.2" y="943.2" width="3.4" height="21.6" rx="1.2" fill="#555" stroke-width="1.1"/>
</g>

<!-- box1 contents -->
<g class="k">
<rect x="486.4" y="24.4" width="2.2" height="22" rx="1" fill="#232323"/>
<rect x="500.4" y="23.2" width="2.8" height="25.4" rx="1.2" fill="#232323"/>
<rect x="514.6" y="25.6" width="26.4" height="20.8" fill="#fff"/>
<rect x="514.8" y="25.6" width="4.6" height="20.8" fill="#3c3c3c" stroke="#2a2a2a" stroke-width="1"/>
<circle cx="531.6" cy="36" r="3.2"/>
<rect x="541" y="23.2" width="22" height="25" rx="1.4" fill="#fff"/>
<path d="M545,23.2 V48.2 M556.4,23.2 V48.2 M560,23.2 V48.2" stroke-width="1.1"/>
<path d="M548,23 V48.4 M550.4,23 V48.4 M552.8,23 V48.4" stroke-width="1.6" stroke="#444"/>
<rect x="563" y="28.6" width="4.2" height="15.4" rx="0.8" fill="#999"/>
</g>
<!-- box2 contents: small cap -->
<g class="k" transform="translate(502.2,281.6) scale(1.0,1.03) translate(-374,-295)" style="stroke-width:1.4">
<path d="M377.6,295 H409.8 Q412,295 412,297 V300.4 L410,301.4 V305.6 L414,306.6 V309.2 L410.6,310.2 L409,314.6 L406.4,322.6 Q404,326.8 399,326.2 L395,324 L376.6,314.6 V311 L374,310 V304.6 L375.6,303.6 V297 Q375.6,295 377.6,295 Z"/>
<path d="M377.6,298 H410"/>
<path d="M381,298 V313.4 L399.6,322.2 M407,298 V314" stroke-width="1.1"/>
</g>
<path d="M522,278 V313" fill="none" stroke="#232323" stroke-width="1.3" stroke-dasharray="8 1.6 1.4 1.6"/>
<g transform="translate(528,304) rotate(25.6)">
<rect x="0" y="-4.4" width="8" height="8.8" rx="1" fill="#fff" stroke="#232323" stroke-width="1.3"/>
<rect x="2" y="-2" width="4.5" height="4" fill="#21a564"/>
<rect x="21.6" y="-4.4" width="2.4" height="8.8" rx="1.1" fill="#232323"/>
<rect x="32" y="-3.8" width="8" height="7.6" rx="0.8" fill="#2a2a2a" stroke="#232323" stroke-width="1.2"/>
<rect x="34" y="-1.8" width="4.5" height="3.6" fill="#bfe3cf"/>
<rect x="40" y="-5" width="4.4" height="10" rx="1" fill="#232323"/>
<rect x="44.4" y="-3.4" width="8.6" height="6.8" rx="0.8" fill="#fff" stroke="#232323" stroke-width="1.3"/>
<rect x="46.4" y="-1.6" width="5" height="3.2" fill="#bfe3cf"/>
</g>
<!-- box3 contents -->
<g class="k">
<rect x="459.6" y="393" width="37.6" height="9.8" rx="0.8" stroke-width="1.8"/>
<path d="M460,416 H496.4" stroke-width="4.2" stroke-linecap="butt"/>
<rect x="459.6" y="422" width="38.2" height="15.2" rx="2.4" stroke-width="1.8"/>
<path d="M460.4,423.8 H496.6" stroke-width="4.8" stroke-linecap="butt"/><path d="M460.4,435 H496.6" stroke-width="4.4" stroke-linecap="butt"/>
</g>
<!-- box4 contents -->
<path d="M478.4,473 V638.6" fill="none" stroke="#232323" stroke-width="1.7" stroke-dasharray="12 1.6 1.4 1.6 1.4 1.6"/>
<g class="k">
<path d="M464.4,476.2 H491.6 L495.2,479.6 Q496.4,481.8 495,483.4 Q494,484.3 492,484.3 H464 Q462,484.3 461,483.4 Q459.6,481.8 460.8,479.6 Z" stroke-width="1.7"/>
<path d="M464.4,477.6 H491.6" stroke-width="2.4"/>
<path d="M462,480 H494" stroke-width="1.1"/>
<!-- top hat -->
<path d="M468,501.4 L469.6,499.4 H470.8 V494.4 H485.4 V499.4 H486.6 L488.2,501.4" stroke-width="1.5"/>
<path d="M464.4,501.4 H491" stroke-width="2.2"/>
<path d="M474.4,494.4 V501 M481.8,494.4 V501" stroke-width="1.3"/>
<!-- small ring -->
<rect x="466.2" y="513.2" width="22.8" height="6.6" rx="1.4" stroke-width="1.8" fill="#8a8a8a"/>
<path d="M469,516.4 H486.4" stroke-width="1.2" stroke="#ddd"/>
<!-- thin line -->
<path d="M466.8,531.4 H488.6" stroke-width="2.6"/>
<!-- square -->
<rect x="470.2" y="544.6" width="16" height="13.4" rx="2.6" stroke-width="2.3"/>
<!-- piston nut -->
<path d="M460.4,569.8 H495.8 Q497.6,569.8 497.6,571.6 V574 Q497.6,575.4 496.4,575.8 Q494.6,577.6 496.2,579.4 Q497.6,580.4 497.6,582 V585.6 Q497.6,588.6 494.6,588.6 Q492.2,588.4 491.6,586.4 L489.6,585.6 V596 Q489.6,597.6 488,597.6 H468.2 Q466.6,597.6 466.6,596 V585.6 L464.6,586.4 Q464,588.4 461.6,588.6 Q458.6,588.6 458.6,585.6 V582 Q458.6,580.4 460,579.4 Q461.6,577.6 459.8,575.8 Q458.6,575.4 458.6,574 V571.6 Q458.6,569.8 460.4,569.8 Z" stroke-width="2.1"/>
<path d="M459.6,575.2 H496.6" stroke-width="2.2"/>
<path d="M461,572.4 H495.2" stroke-width="1" stroke="#fff"/>
<path d="M463.6,577.6 H492.6 L489.6,581.2 H466.6 Z" stroke-width="1.6"/>
<path d="M466.6,582.6 H489.6" stroke-width="2.4"/>
<path d="M470,583 V594.6 M478.4,583 V594.6 M487,583 V594.6" stroke-width="3"/>
<path d="M466.6,595 H489.6" stroke-width="2"/>
<!-- small cup in red box -->
<path d="M466.8,609.8 H489.2 Q490.8,609.8 490.8,611.4 V612.8 Q490.8,614.4 489.2,614.6 L486.4,615 L485,617.6 Q484.4,618.4 483.4,618.4 H472.6 Q471.6,618.4 471,617.6 L469.6,615 L466.8,614.6 Q465.2,614.4 465.2,612.8 V611.4 Q465.2,609.8 466.8,609.8 Z" stroke-width="2"/>
<path d="M470,615 H486" stroke-width="1.4"/>
<!-- bottom washer -->
<rect x="458.2" y="630.6" width="39.6" height="4.8" rx="2.4" stroke-width="1.9"/>
</g>

<!-- big box contents -->
<g>
<!-- two small parts -->
<rect x="669.6" y="515" width="7" height="11.4" rx="1.6" fill="#1d2e25" stroke="#232323" stroke-width="1"/>
<path d="M673.2,517.6 V524" stroke="#4fb584" stroke-width="1.4" stroke-dasharray="1.6 2.2" fill="none"/>
<rect x="669.6" y="540.4" width="6.6" height="7" rx="1.6" fill="#1d2e25" stroke="#232323" stroke-width="1"/>
<rect x="672.2" y="542.6" width="1.6" height="2.6" fill="#4fb584"/>
<!-- shaft -->
<path d="M669.4,560.8 H677.4 Q679.4,560.8 679.4,562.8 V568 L678.6,569.4 V596 L680.6,598 V771 Q680.6,774.4 677.4,774.4 H669.4 Q666.2,774.4 666.2,771 V598 L668.2,596 V569.4 L667.4,568 V562.8 Q667.4,560.8 669.4,560.8 Z" fill="#fff" stroke="#2c2c2c" stroke-width="1.5"/>
<path d="M666.4,598 H680.4 M666.4,600.8 H680.4" stroke="#3a3a3a" stroke-width="1" fill="none"/>
<path d="M668.4,602 V766 M678.4,602 V766" stroke="#777" stroke-width="0.9" fill="none"/>
<path d="M669.6,563 V596 M677.2,563 V596" stroke="#444" stroke-width="1.1" fill="none"/>
<rect x="671.8" y="562.4" width="3" height="23" fill="#4dc48d"/>
<rect x="671.6" y="585.4" width="3.4" height="180" fill="#1d6e45"/>
<path d="M673.3,590 V764" stroke="#d9efe3" stroke-width="1" stroke-dasharray="1.2 2 1.2 11.6" fill="none"/>
<path d="M670.6,601 V768 M676,601 V768" stroke="#2b2b2b" stroke-width="0.9" fill="none"/>
<rect x="671" y="766" width="4.8" height="6.4" fill="#fff" stroke="#333" stroke-width="1"/>
<!-- needle -->
<path d="M704.8,583.8 L707,588.4 Q707.8,591.6 706.6,594.4 L705.6,597 H704 L703,594.4 Q701.8,591.6 702.6,588.4 Z" fill="#1e1e1e"/>
<rect x="702.4" y="602.2" width="5" height="176" rx="1" fill="#1d6e45" stroke="#24332b" stroke-width="1"/>
<path d="M704.9,606 V776" stroke="#d9efe3" stroke-width="1.1" stroke-dasharray="1.2 2 1.2 12.6" fill="none"/>
<path d="M702.4,778 H707.4 L706,781 H703.8 Z" fill="#1e1e1e"/>
<!-- washers -->
<rect x="669.6" y="787.8" width="7.4" height="2" rx="1" fill="#1e1e1e"/>
<rect x="669.6" y="801.4" width="7.4" height="2" rx="1" fill="#1e1e1e"/>
<ellipse cx="673.2" cy="818" rx="3.4" ry="2.4" fill="#fff" stroke="#1e1e1e" stroke-width="1.6"/>
</g>
<g class="k" style="stroke-width:1.4">
<!-- nut -->
<path d="M664.4,832.6 H682 Q683.2,832.6 683.6,833.8 L684.2,836.6 L683.6,839.6 Q683.2,840.8 682,840.8 H664.4 Q663.2,840.8 662.8,839.6 L662.2,836.6 L662.8,833.8 Q663.2,832.6 664.4,832.6 Z"/>
<path d="M668.4,832.6 V840.8 M678,832.6 V840.8" stroke-width="1.1"/>
<!-- clevis -->
<path d="M666.4,851.8 H681.4 Q684.6,852 687.2,856.6 Q688.8,859.4 688.8,862 V872.4 Q688.4,875.4 685.6,877.8 L682.4,882.4 V951 Q682.4,954.8 678.4,954.8 H667.6 Q663.6,954.8 663.6,951 V885 L660.2,884 V868.4 V884 H652 Q650.4,884 650.4,882.4 V870 Q650.4,868.4 652,868.4 H660.2 V861 Q660.4,857.6 662.4,854.6 Q664,852 666.4,851.8 Z"/>
<path d="M654.4,868.4 V884" stroke-width="1"/>
<rect x="666.2" y="854.8" width="13" height="13.4" stroke-width="1.5"/>
<path d="M670.4,868.4 V878 H674.8 V868.4" stroke-width="1.2"/>
<path d="M666.6,886 V928 M679.4,882.4 V928" stroke-width="1.1"/>
<path d="M663.6,928.4 H682.4" stroke-width="1.2"/>
<path d="M664,950.8 H682" stroke-width="1"/>
</g>

<!-- green centre lines -->
<g style="mix-blend-mode:multiply" fill="none" stroke="#21a564" stroke-width="2.1" stroke-dasharray="12.6 1.5 1.4 1.5">
<path d="M330.3,15.5 V668"/>
<path d="M223.5,48.2 H342 Q345,48.2 347,46 L376,17 Q378.5,14.4 381,14.4" stroke-width="2"/>
<path d="M381,14.4 H428.5" stroke-width="1.6" stroke-dasharray="10 1.5 1.4 1.5"/>
<path d="M349,72.8 L451.6,36.2" stroke-width="1.6" stroke-dasharray="10 1.5 1.4 1.5"/>
<path d="M394,192 V342"/>
<path d="M283.5,954 H422" stroke-width="1.6" stroke-dasharray="9 1.5 1.4 1.5"/>
<path d="M330.3,892 V974"/>
</g>
<g style="mix-blend-mode:multiply" fill="none" stroke="#21a564" stroke-width="1.5" stroke-dasharray="9 1.5 1.5 1.5">
<path d="M482.5,36 H571.5"/>
<path d="M727.8,75.5 V303.5"/>
<path d="M479,389 V441" stroke-width="1.1" stroke="#2fae73"/>
<path d="M673.4,509 V515 M673.4,527 V540 M673.4,548 V560.5" stroke-dasharray="none"/>
<path d="M673.4,775 V960"/>
<path d="M646,875.6 H675"/>
<path d="M660,938.7 H686.5"/>
<path d="M704.8,597 V602" stroke-dasharray="none"/>
<path d="M704.8,778 V785"/>
<path d="M403,315 L441,335"/>
<path d="M528,304 L578,328"/>
</g>

<!-- spring -->
<g fill="none" stroke-linecap="round">
<path d="M696.0,86.0 L760.6,99.6" stroke="#232323" stroke-width="9.4"/><path d="M696.0,86.0 L760.6,99.6" stroke="#fff" stroke-width="6.2"/>
<path d="M696.0,112.4 L760.6,126.0" stroke="#232323" stroke-width="9.4"/><path d="M696.0,112.4 L760.6,126.0" stroke="#fff" stroke-width="6.2"/>
<path d="M696.0,138.8 L760.6,152.4" stroke="#232323" stroke-width="9.4"/><path d="M696.0,138.8 L760.6,152.4" stroke="#fff" stroke-width="6.2"/>
<path d="M696.0,165.2 L760.6,178.8" stroke="#232323" stroke-width="9.4"/><path d="M696.0,165.2 L760.6,178.8" stroke="#fff" stroke-width="6.2"/>
<path d="M696.0,191.6 L760.6,205.2" stroke="#232323" stroke-width="9.4"/><path d="M696.0,191.6 L760.6,205.2" stroke="#fff" stroke-width="6.2"/>
<path d="M696.0,218.0 L760.6,231.6" stroke="#232323" stroke-width="9.4"/><path d="M696.0,218.0 L760.6,231.6" stroke="#fff" stroke-width="6.2"/>
<path d="M696.0,244.4 L760.6,258.0" stroke="#232323" stroke-width="9.4"/><path d="M696.0,244.4 L760.6,258.0" stroke="#fff" stroke-width="6.2"/>
<path d="M696.0,270.8 L760.6,284.4" stroke="#232323" stroke-width="9.4"/><path d="M696.0,270.8 L760.6,284.4" stroke="#fff" stroke-width="6.2"/>
</g>
<path d="M697,81.2 Q691.6,81.8 691.4,86.2 Q691.6,90.6 696,91.2 L700,90.9 L760.4,86.8 Q763.4,86.4 764,84 L764.6,81.2 Z" fill="#fff" stroke="#232323" stroke-width="1.6" stroke-linejoin="round"/>
<path d="M697,299.6 H764.6 V297.4 Q763.6,293.8 759,293.6 L755.4,293.9 L702,299.2" fill="#fff" stroke="#232323" stroke-width="1.6" stroke-linejoin="round"/>
<path d="M755.4,294 V299.4" fill="none" stroke="#232323" stroke-width="1.6"/>
<g fill="none" stroke-linecap="round">
<path d="M760.6,99.6 L696.0,112.4" stroke="#232323" stroke-width="9.4"/><path d="M760.6,99.6 L696.0,112.4" stroke="#fff" stroke-width="6.2"/>
<path d="M760.6,126.0 L696.0,138.8" stroke="#232323" stroke-width="9.4"/><path d="M760.6,126.0 L696.0,138.8" stroke="#fff" stroke-width="6.2"/>
<path d="M760.6,152.4 L696.0,165.2" stroke="#232323" stroke-width="9.4"/><path d="M760.6,152.4 L696.0,165.2" stroke="#fff" stroke-width="6.2"/>
<path d="M760.6,178.8 L696.0,191.6" stroke="#232323" stroke-width="9.4"/><path d="M760.6,178.8 L696.0,191.6" stroke="#fff" stroke-width="6.2"/>
<path d="M760.6,205.2 L696.0,218.0" stroke="#232323" stroke-width="9.4"/><path d="M760.6,205.2 L696.0,218.0" stroke="#fff" stroke-width="6.2"/>
<path d="M760.6,231.6 L696.0,244.4" stroke="#232323" stroke-width="9.4"/><path d="M760.6,231.6 L696.0,244.4" stroke="#fff" stroke-width="6.2"/>
<path d="M760.6,258.0 L696.0,270.8" stroke="#232323" stroke-width="9.4"/><path d="M760.6,258.0 L696.0,270.8" stroke="#fff" stroke-width="6.2"/>
<path d="M760.6,284.4 L696.0,294.8" stroke="#232323" stroke-width="9.4"/><path d="M760.6,284.4 L696.0,294.8" stroke="#fff" stroke-width="6.2"/>
</g>
<path d="M727.8,75.5 V303.5" fill="none" stroke="#21a564" stroke-width="1.3" stroke-dasharray="9 1.5 1.5 1.5"/>
<rect x="135" y="658" width="1.2" height="2.4" fill="#aaa"/>
</svg>
</body></html>
